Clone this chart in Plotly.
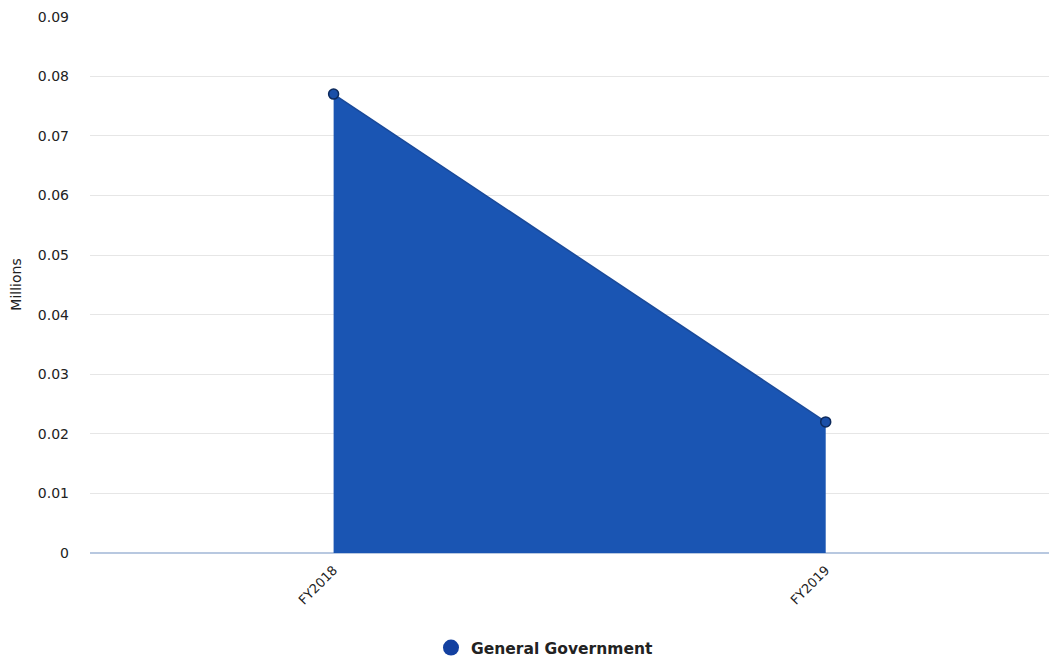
import plotly.graph_objects as go

categories = ["FY2018", "FY2019"]
values = [0.077, 0.022]
series_name = "General Government"
y_ticks = [0, 0.01, 0.02, 0.03, 0.04, 0.05, 0.06, 0.07, 0.08, 0.09]
y_tick_labels = ["0", "0.01", "0.02", "0.03", "0.04", "0.05", "0.06", "0.07", "0.08", "0.09"]

fig = go.Figure()
fig.add_trace(go.Scatter(
    x=[0, 1], y=values, mode="lines+markers", name=series_name,
    fill="tozeroy", fillcolor="#1a55b3", showlegend=False,
    line=dict(color="#1a4a9a", width=1.5),
    marker=dict(size=10, color="#1a4fa8", line=dict(color="#0d2a5c", width=1.5)),
))
# legend entry (circle only)
fig.add_trace(go.Scatter(
    x=[None], y=[None], mode="markers", name="<b>" + series_name + "</b>",
    marker=dict(size=16, color="#1340a0"), showlegend=True,
))

fig.update_layout(
    width=1049, height=654,
    margin=dict(l=82, r=0, t=8, b=109, autoexpand=False),
    paper_bgcolor="white", plot_bgcolor="white",
    font=dict(family="DejaVu Sans", color="#222", size=13),
    showlegend=True,
    legend=dict(orientation="h", x=0.47, xanchor="center", y=-0.177, yanchor="middle",
                font=dict(size=15.5, color="#222", family="DejaVu Sans")),
    xaxis=dict(
        tickmode="array", tickvals=[0, 1], ticktext=categories, automargin=False,
        range=[-0.495, 1.47], tickangle=-45, showgrid=False, zeroline=False,
        showline=False, ticks="", tickfont=dict(size=13), ticklabelstandoff=6,
    ),
    yaxis=dict(
        range=[0, 0.0901], tickmode="array", tickvals=y_ticks, ticktext=y_tick_labels,
        showgrid=True, gridcolor="#e6e6e6", zeroline=True, zerolinecolor="#b8c8e0",
        automargin=False,
        title=dict(text="Millions", font=dict(size=14)), ticks="", ticklabelstandoff=20,
        tickfont=dict(size=14),
    ),
)
fig.write_html("out.html")
